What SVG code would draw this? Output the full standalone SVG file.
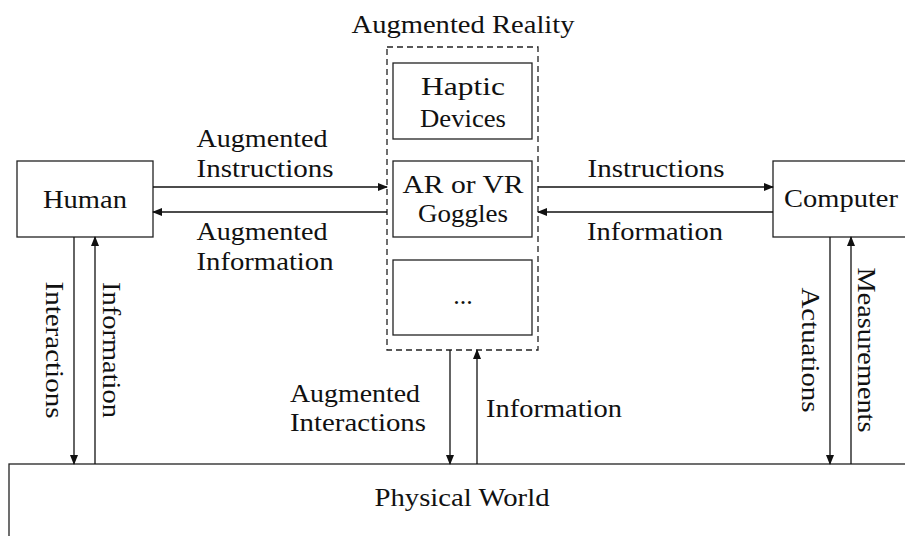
<svg xmlns="http://www.w3.org/2000/svg" width="905" height="536" viewBox="0 0 905 536">
<style>
.box{fill:#fff;stroke:#222;stroke-width:1.3}
.dash{fill:none;stroke:#222;stroke-width:1.3;stroke-dasharray:6 4}
.t{font-family:"Liberation Serif","Times New Roman",serif;font-size:26px;fill:#111;text-anchor:middle}
.c{stroke:#111;stroke-width:1.3;fill:none}
</style>
<defs>
<marker id="ah" markerWidth="10" markerHeight="8" refX="9" refY="4" orient="auto" markerUnits="userSpaceOnUse">
<path d="M0,0 L10,4 L0,8 Z" fill="#111"/>
</marker>
</defs>
<rect width="905" height="536" fill="#fff"/>
<g id="physical-world">
<rect class="box" x="9" y="464" width="910" height="90"/>
<text class="t" x="462" y="506" textLength="175" lengthAdjust="spacingAndGlyphs">Physical World</text>
</g>
<g id="human">
<rect class="box" x="17" y="161" width="136" height="76"/>
<text class="t" x="85" y="208" textLength="84" lengthAdjust="spacingAndGlyphs">Human</text>
</g>
<g id="computer">
<rect class="box" x="773" y="161" width="150" height="76"/>
<text class="t" x="841" y="207" textLength="114" lengthAdjust="spacingAndGlyphs">Computer</text>
</g>
<g id="augmented-reality">
<rect class="dash" x="387" y="47" width="151" height="303"/>
<text class="t" x="463" y="33" textLength="223" lengthAdjust="spacingAndGlyphs">Augmented Reality</text>
</g>
<g id="haptic">
<rect class="box" x="393" y="63" width="139" height="76"/>
<text class="t" x="463" y="95" textLength="84" lengthAdjust="spacingAndGlyphs">Haptic</text>
<text class="t" x="463" y="127" textLength="86" lengthAdjust="spacingAndGlyphs">Devices</text>
</g>
<g id="goggles">
<rect class="box" x="393" y="161" width="139" height="76"/>
<text class="t" x="463" y="193" textLength="121" lengthAdjust="spacingAndGlyphs">AR or VR</text>
<text class="t" x="463" y="222" textLength="90" lengthAdjust="spacingAndGlyphs">Goggles</text>
</g>
<g id="other">
<rect class="box" x="393" y="260" width="139" height="75"/>
<text class="t" x="463" y="304">...</text>
</g>
<g id="connectors">
<line class="c" x1="153" y1="187" x2="387" y2="187" marker-end="url(#ah)"/>
<line class="c" x1="387" y1="212" x2="153" y2="212" marker-end="url(#ah)"/>
<line class="c" x1="538" y1="187" x2="773" y2="187" marker-end="url(#ah)"/>
<line class="c" x1="773" y1="212" x2="538" y2="212" marker-end="url(#ah)"/>
<line class="c" x1="74" y1="237" x2="74" y2="464" marker-end="url(#ah)"/>
<line class="c" x1="95" y1="464" x2="95" y2="237" marker-end="url(#ah)"/>
<line class="c" x1="450" y1="350" x2="450" y2="464" marker-end="url(#ah)"/>
<line class="c" x1="477" y1="464" x2="477" y2="350" marker-end="url(#ah)"/>
<line class="c" x1="830" y1="237" x2="830" y2="464" marker-end="url(#ah)"/>
<line class="c" x1="851" y1="464" x2="851" y2="237" marker-end="url(#ah)"/>
<text class="t" x="262" y="147" textLength="131" lengthAdjust="spacingAndGlyphs">Augmented</text>
<text class="t" x="265" y="177" textLength="137" lengthAdjust="spacingAndGlyphs">Instructions</text>
<text class="t" x="262" y="240" textLength="131" lengthAdjust="spacingAndGlyphs">Augmented</text>
<text class="t" x="265" y="270" textLength="137" lengthAdjust="spacingAndGlyphs">Information</text>
<text class="t" x="656" y="177" textLength="137" lengthAdjust="spacingAndGlyphs">Instructions</text>
<text class="t" x="655" y="240" textLength="136" lengthAdjust="spacingAndGlyphs">Information</text>
<text class="t" x="355" y="402" textLength="130" lengthAdjust="spacingAndGlyphs">Augmented</text>
<text class="t" x="358" y="431" textLength="136" lengthAdjust="spacingAndGlyphs">Interactions</text>
<text class="t" x="554" y="417" textLength="136" lengthAdjust="spacingAndGlyphs">Information</text>
<text class="t" transform="translate(46,350) rotate(90)" textLength="137" lengthAdjust="spacingAndGlyphs">Interactions</text>
<text class="t" transform="translate(103,350) rotate(90)" textLength="136" lengthAdjust="spacingAndGlyphs">Information</text>
<text class="t" transform="translate(802,350) rotate(90)" textLength="125" lengthAdjust="spacingAndGlyphs">Actuations</text>
<text class="t" transform="translate(858,350) rotate(90)" textLength="165" lengthAdjust="spacingAndGlyphs">Measurements</text>
</g>
</svg>
